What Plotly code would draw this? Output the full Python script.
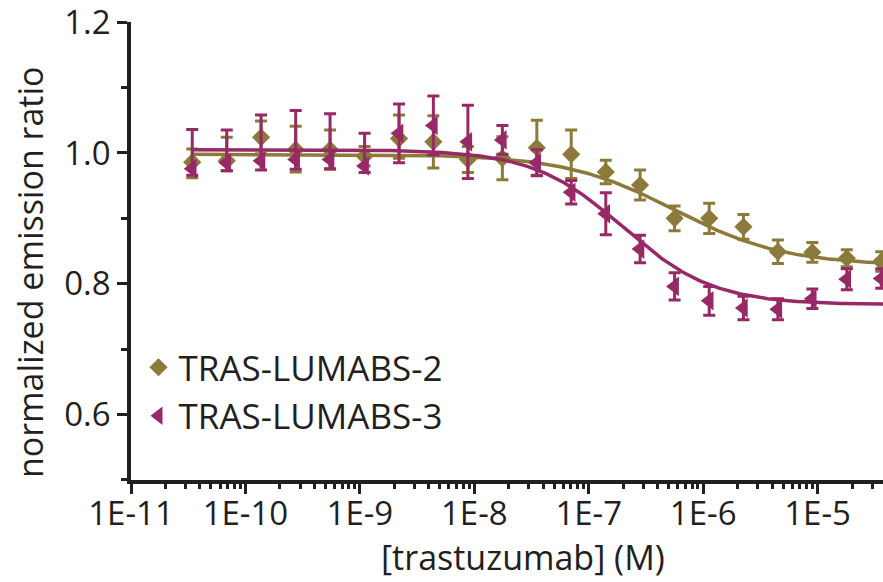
import numpy as np
import plotly.graph_objects as go

# ---- data ----
conc_M = [3.43e-11, 6.87e-11, 1.37e-10, 2.75e-10, 5.49e-10, 1.10e-9, 2.20e-9,
          4.39e-9, 8.79e-9, 1.76e-8, 3.52e-8, 7.03e-8, 1.41e-7, 2.81e-7,
          5.63e-7, 1.13e-6, 2.25e-6, 4.50e-6, 9.00e-6, 1.80e-5, 3.60e-5]

lumabs2 = [0.986, 0.988, 1.024, 1.005, 1.005, 0.995, 1.022, 1.017, 0.990, 0.992,
           1.008, 0.998, 0.971, 0.951, 0.900, 0.900, 0.887, 0.849, 0.848, 0.839, 0.834]
lumabs2_err_up = [0.020, 0.036, 0.025, 0.036, 0.030, 0.015, 0.036, 0.040, 0.020, 0.033,
                  0.042, 0.037, 0.018, 0.023, 0.019, 0.023, 0.019, 0.018, 0.015, 0.013, 0.015]
lumabs2_err_dn = [0.024, 0.015, 0.025, 0.034, 0.030, 0.015, 0.030, 0.040, 0.020, 0.033,
                  0.042, 0.037, 0.018, 0.023, 0.019, 0.023, 0.019, 0.018, 0.015, 0.013, 0.015]

lumabs3 = [0.976, 0.985, 0.988, 0.990, 0.990, 0.980, 1.030, 1.042, 1.017, 1.020,
           0.985, 0.940, 0.907, 0.853, 0.796, 0.774, 0.763, 0.761, 0.777, 0.807, 0.808]
lumabs3_err_up = [0.060, 0.050, 0.070, 0.075, 0.070, 0.050, 0.045, 0.045, 0.056, 0.022,
                  0.020, 0.018, 0.032, 0.021, 0.021, 0.022, 0.018, 0.016, 0.015, 0.016, 0.015]
lumabs3_err_dn = [0.010, 0.012, 0.014, 0.015, 0.014, 0.010, 0.045, 0.045, 0.056, 0.022,
                  0.020, 0.018, 0.032, 0.021, 0.021, 0.022, 0.018, 0.016, 0.015, 0.016, 0.015]

# 4-parameter logistic fit parameters: top, bottom, logEC50, hill
fit2 = dict(top=0.998, bottom=0.828, logec50=-6.25, hill=0.9)
fit3 = dict(top=1.005, bottom=0.768, logec50=-6.70, hill=1.1)

x_tick_vals = [1e-11, 1e-10, 1e-9, 1e-8, 1e-7, 1e-6, 1e-5]
x_tick_text = ["1E-11", "1E-10", "1E-9", "1E-8", "1E-7", "1E-6", "1E-5"]
y_tick_vals = [0.6, 0.8, 1.0, 1.2]
y_tick_text = ["0.6", "0.8", "1.0", "1.2"]
y_minor_vals = [0.5, 0.7, 0.9, 1.1]

series_names = ["TRAS-LUMABS-2", "TRAS-LUMABS-3"]
GOLD = "#8c7a3a"
PURPLE = "#962966"
INK = "#231f20"
FONT = "Open Sans"


def four_pl(logx, p):
    return p["bottom"] + (p["top"] - p["bottom"]) / (1 + 10 ** ((logx - p["logec50"]) * p["hill"]))


logx_fit = np.linspace(np.log10(conc_M[0]), -4.3, 300)
x_fit = 10 ** logx_fit

x_minor_vals = [m * 10.0 ** e for e in range(-11, -4) for m in range(2, 10)]

fig = go.Figure()

fig.add_trace(go.Scatter(x=x_fit, y=four_pl(logx_fit, fit2), mode="lines",
                         line=dict(color=GOLD, width=3.5), showlegend=False, hoverinfo="skip"))
fig.add_trace(go.Scatter(x=conc_M, y=lumabs2, mode="markers", name=series_names[0],
                         marker=dict(symbol="diamond", size=14, color=GOLD),
                         error_y=dict(type="data", array=lumabs2_err_up, arrayminus=lumabs2_err_dn,
                                      color=GOLD, thickness=3, width=6)))
fig.add_trace(go.Scatter(x=x_fit, y=four_pl(logx_fit, fit3), mode="lines",
                         line=dict(color=PURPLE, width=3.5), showlegend=False, hoverinfo="skip"))
fig.add_trace(go.Scatter(x=conc_M, y=lumabs3, mode="markers", name=series_names[1],
                         marker=dict(symbol="triangle-left", size=17, color=PURPLE),
                         error_y=dict(type="data", array=lumabs3_err_up, arrayminus=lumabs3_err_dn,
                                      color=PURPLE, thickness=3, width=6)))

x_left = 131
x_right = 883
xmin_log = -11
xmax_log = -11 + (x_right - x_left) / 114.43

fig.update_layout(
    width=883, height=582,
    margin=dict(l=x_left, r=0, t=22, b=102),
    paper_bgcolor="white", plot_bgcolor="white",
    font=dict(family=FONT, size=33, color=INK),
    showlegend=True,
    legend=dict(x=0.01, y=0.31, xanchor="left", yanchor="top",
                bgcolor="rgba(0,0,0,0)", font=dict(family=FONT, size=35, color=INK),
                tracegroupgap=0, itemwidth=30),
    xaxis=dict(type="log", range=[xmin_log, xmax_log],
               tickmode="array", tickvals=x_tick_vals, ticktext=x_tick_text,
               ticks="outside", ticklen=10, tickwidth=3, tickcolor=INK,
               ticklabelstandoff=-8, ticklabeloverflow="allow",
               showline=True, linecolor=INK, linewidth=3.5,
               showgrid=False, zeroline=False,
               tickfont=dict(family=FONT, size=33, color=INK),
               minor=dict(tickmode="array", tickvals=x_minor_vals, ticks="outside",
                          ticklen=5, tickwidth=2.5, tickcolor=INK, showgrid=False)),
    yaxis=dict(range=[0.4999, 1.2003], tickmode="array", tickvals=y_tick_vals,
               ticktext=y_tick_text, ticklabeloverflow="allow",
               ticks="outside", ticklen=10, tickwidth=3, tickcolor=INK,
               showline=True, linecolor=INK, linewidth=3.5,
               showgrid=False, zeroline=False,
               tickfont=dict(family=FONT, size=33, color=INK),
               minor=dict(tickmode="array", tickvals=y_minor_vals, ticks="outside", ticklen=6,
                          tickwidth=2.5, tickcolor=INK, showgrid=False)),
    annotations=[
        dict(text="normalized emission ratio", xref="paper", yref="paper",
             x=-0.135, y=0.455, xanchor="center", yanchor="middle",
             textangle=-90, showarrow=False, font=dict(family=FONT, size=34, color=INK)),
        dict(text="[trastuzumab] (M)", xref="paper", yref="paper",
             x=(523 - x_left) / (x_right - x_left), y=-0.168, xanchor="center", yanchor="middle",
             showarrow=False, font=dict(family=FONT, size=34, color=INK)),
    ],
)

fig.write_html("out.html")
